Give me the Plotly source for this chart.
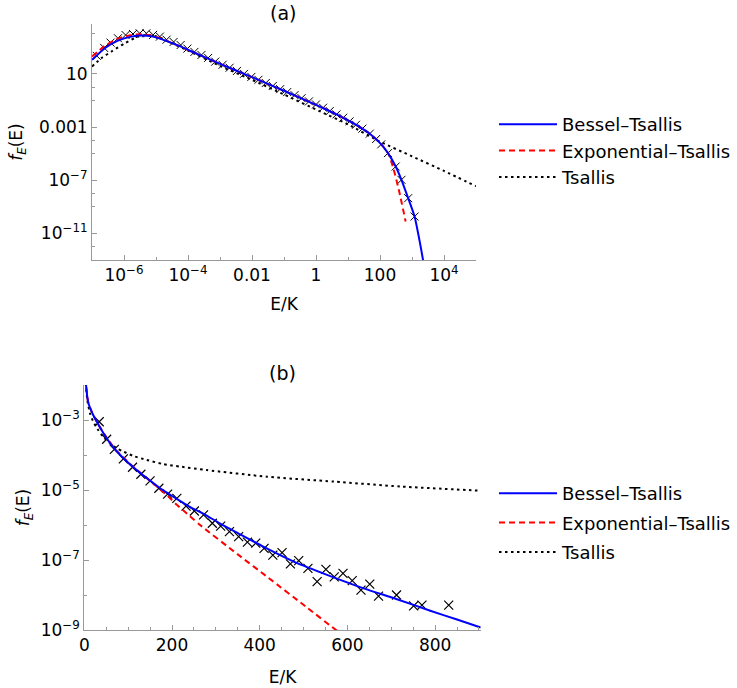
import plotly.graph_objects as go

# ---------------- panel (a): log-log, values stored as log10 ----------------
a_blue_logE = [-7.0, -6.6, -6.19, -5.77, -5.45, -5.1, -4.7, -4.3, -3.9, -3.3, -2.5, -2.0, -1.0, 0.0, 0.3, 0.64, 1.0, 1.37, 1.68, 2.04, 2.25, 2.49, 2.67, 2.88, 3.08, 3.24, 3.36]
a_blue_logf = [2.05, 2.93, 3.5, 3.8, 3.88, 3.8, 3.5, 3.12, 2.7, 2.07, 1.25, 0.75, -0.27, -1.33, -1.66, -2.05, -2.5, -3.0, -3.5, -4.3, -4.96, -5.97, -6.97, -8.35, -9.73, -11.6, -13.2]

a_red_logE = [-7.0, -6.6, -6.19, -5.77, -5.45, -5.1, -4.7, -4.3, -3.9, -3.3, -2.5, -2.0, -1.0, 0.0, 0.3, 0.64, 1.0, 1.37, 1.68, 2.04, 2.25, 2.4, 2.6, 2.8]
a_red_logf = [2.3, 3.1, 3.65, 3.92, 3.97, 3.85, 3.52, 3.12, 2.7, 2.07, 1.25, 0.75, -0.27, -1.33, -1.66, -2.05, -2.5, -3.0, -3.5, -4.3, -4.96, -5.95, -7.85, -10.1]

a_tsallis_logE = [-7.0, -6.71, -6.39, -5.98, -5.56, -5.25, -4.9, -4.5, -4.0, -3.0, -2.0, -1.0, 0.15, 1.0, 2.0, 3.0, 4.0, 5.0]
a_tsallis_logf = [1.55, 2.18, 2.68, 3.3, 3.8, 3.93, 3.75, 3.3, 2.75, 1.6, 0.55, -0.55, -1.85, -2.8, -4.1, -5.2, -6.3, -7.45]

a_data_logE = [-6.85, -6.62, -6.42, -6.19, -5.95, -5.72, -5.51, -5.3, -5.09, -4.88, -4.67, -4.45, -4.23, -4.02,
               -3.8, -3.58, -3.37, -3.15, -2.92, -2.7, -2.47, -2.25, -2.02, -1.8, -1.57, -1.35, -1.12, -0.9,
               -0.67, -0.45, -0.22, 0.0, 0.22, 0.43, 0.64, 0.85, 1.05, 1.25, 1.45, 1.68, 1.88, 2.04, 2.25,
               2.49, 2.67, 2.88, 3.08]
a_data_logf = [2.35, 2.95, 3.35, 3.68, 3.92, 4.0, 4.05, 4.05, 3.93, 3.8, 3.57, 3.4, 3.17, 2.9,
               2.65, 2.42, 2.2, 1.92, 1.68, 1.46, 1.22, 1.0, 0.77, 0.55, 0.31, 0.09, -0.15, -0.37,
               -0.6, -0.83, -1.07, -1.3, -1.55, -1.8, -2.05, -2.3, -2.57, -2.83, -3.12, -3.5, -3.9, -4.3, -4.96,
               -5.97, -6.97, -8.35, -9.73]

a_xtick_vals = [1e-6, 1e-4, 1e-2, 1, 100, 1e4]
a_xtick_text = ["10<sup>\u22126</sup>", "10<sup>\u22124</sup>", "0.01", "1", "100", "10<sup>4</sup>"]
a_xminor_vals = [1e-7, 1e-5, 1e-3, 0.1, 10, 1000, 1e5]
a_ytick_vals = [10, 1e-3, 1e-7, 1e-11]
a_ytick_text = ["10", "0.001", "10<sup>\u22127</sup>", "10<sup>\u221211</sup>"]
a_yminor_vals = [1e4, 1, 0.1, 1e-4, 1e-5, 1e-8, 1e-9, 1e-12]

# ---------------- panel (b): linear E, log f (f stored as log10) ----------------
b_blue_E = [2, 4, 9, 20, 34, 51, 70, 90, 110, 130, 150, 170, 190, 210, 240, 272, 310, 350, 416, 480, 561, 637, 713, 789, 850, 904]
b_blue_logf = [-1.5, -2.0, -2.5, -2.85, -3.17, -3.52, -3.84, -4.1, -4.33, -4.54, -4.73, -4.92, -5.09, -5.25, -5.48, -5.68, -5.96, -6.23, -6.67, -7.06, -7.46, -7.81, -8.12, -8.45, -8.70, -8.93]

b_red_E = [2, 4, 9, 20, 34, 51, 70, 90, 110, 130, 150, 170, 190, 211, 240, 264, 350, 420, 508, 576, 600]
b_red_logf = [-1.5, -2.0, -2.5, -2.85, -3.17, -3.5, -3.83, -4.08, -4.32, -4.53, -4.74, -4.95, -5.17, -5.42, -5.74, -6.0, -6.84, -7.51, -8.36, -9.02, -9.25]

b_tsallis_E = [0.8, 6.9, 13, 20.6, 32, 43.4, 58.7, 74, 89, 112, 142, 180, 218, 279, 416, 569, 721, 904]
b_tsallis_logf = [-1.6, -2.43, -2.81, -3.05, -3.29, -3.48, -3.67, -3.81, -3.9, -4.03, -4.14, -4.26, -4.33, -4.43, -4.62, -4.76, -4.9, -5.02]

b_data_E = [34, 51, 68.5, 89, 110, 129, 150, 170, 190, 211, 232, 251, 272, 292, 311, 331, 352, 372, 391, 410,
            430, 451, 470, 489, 510, 531, 551, 570, 590, 611, 631, 651, 671, 712, 751, 770, 831]
b_data_logf = [-3.05, -3.55, -3.84, -4.11, -4.35, -4.55, -4.74, -4.95, -5.12, -5.24, -5.46, -5.6, -5.71, -5.95, -6.03,
               -6.19, -6.33, -6.49, -6.52, -6.67, -6.86, -6.79, -7.11, -7.02, -7.24, -7.62, -7.27, -7.48, -7.38,
               -7.59, -7.86, -7.69, -8.03, -8.0, -8.31, -8.29, -8.29]

b_xtick_vals = [0, 200, 400, 600, 800]
b_ytick_vals = [1e-3, 1e-5, 1e-7, 1e-9]
b_ytick_text = ["10<sup>\u22123</sup>", "10<sup>\u22125</sup>", "10<sup>\u22127</sup>", "10<sup>\u22129</sup>"]
b_yminor_vals = [1e-2, 1e-4, 1e-6, 1e-8]

series_names = ["Bessel\u2013Tsallis", "Exponential\u2013Tsallis", "Tsallis"]


def p10(v):
    return [10 ** x for x in v]


W, H = 737, 688


def fx(px):
    return px / W


def fy(py):
    return 1 - py / H


FONT = "DejaVu Sans"
AX = "#999999"
BLUE = "#0000ff"
RED = "#ff0000"
TICK_SIZE = 17
LEG_SIZE = 18

fig = go.Figure()

line_styles = [dict(color=BLUE, width=2), dict(color=RED, width=2, dash="6px,4px"),
               dict(color="black", width=2, dash="2.5px,3.5px")]

# panel (a)
a_curves = [(a_blue_logE, a_blue_logf), (a_red_logE, a_red_logf), (a_tsallis_logE, a_tsallis_logf)]
fig.add_trace(go.Scatter(x=p10(a_data_logE), y=p10(a_data_logf), mode="markers",
                         marker=dict(symbol="x-thin-open", size=8, color="black",
                                     line=dict(color="black", width=1)),
                         showlegend=False, xaxis="x", yaxis="y", hoverinfo="skip"))
for i in [2, 1, 0]:
    xs, ys = a_curves[i]
    fig.add_trace(go.Scatter(x=p10(xs), y=p10(ys), mode="lines", name=series_names[i],
                             line=dict(shape="spline", smoothing=0.6, **line_styles[i]),
                             legend="legend", legendgroup="a%d" % i, legendrank=i + 1,
                             xaxis="x", yaxis="y"))

# panel (b)
b_curves = [(b_blue_E, b_blue_logf), (b_red_E, b_red_logf), (b_tsallis_E, b_tsallis_logf)]
fig.add_trace(go.Scatter(x=b_data_E, y=p10(b_data_logf), mode="markers",
                         marker=dict(symbol="x-thin-open", size=9, color="black",
                                     line=dict(color="black", width=1.2)),
                         showlegend=False, xaxis="x2", yaxis="y2", hoverinfo="skip"))
for i in [2, 1, 0]:
    xs, ys = b_curves[i]
    fig.add_trace(go.Scatter(x=xs, y=p10(ys), mode="lines", name=series_names[i],
                             line=dict(shape="spline", smoothing=0.6, **line_styles[i]),
                             legend="legend2", legendgroup="b%d" % i, legendrank=i + 1,
                             xaxis="x2", yaxis="y2"))

common_axis = dict(showline=True, linecolor=AX, linewidth=1, ticks="inside", tickcolor=AX,
                   ticklen=5, tickwidth=1, showgrid=False, zeroline=False, automargin=False,
                   tickfont=dict(family=FONT, size=TICK_SIZE, color="black"))
ytitle = "<i>f</i><sub><i>E</i></sub>(E)"
tfont = dict(family=FONT, size=TICK_SIZE, color="black")

fig.update_layout(
    width=W, height=H,
    margin=dict(l=0, r=0, t=0, b=0),
    paper_bgcolor="white", plot_bgcolor="white",
    font=dict(family=FONT, size=TICK_SIZE, color="black"),
    xaxis=dict(type="log", range=[-7, 5], domain=[fx(92), fx(476)], anchor="y",
               tickmode="array", tickvals=a_xtick_vals, ticktext=a_xtick_text,
               minor=dict(tickmode="array", tickvals=a_xminor_vals, ticks="inside", ticklen=3, tickcolor=AX),
               title=dict(text="E/K", font=tfont, standoff=13), **common_axis),
    yaxis=dict(type="log", range=[-13, 4.75], domain=[fy(260), fy(24)], anchor="x",
               tickmode="array", tickvals=a_ytick_vals, ticktext=a_ytick_text,
               minor=dict(tickmode="array", tickvals=a_yminor_vals, ticks="inside", ticklen=3, tickcolor=AX),
               title=dict(text=ytitle, font=tfont, standoff=11), **common_axis),
    xaxis2=dict(type="linear", range=[0, 904], domain=[fx(84.3), fx(480.7)], anchor="y2",
                tickmode="array", tickvals=b_xtick_vals,
                minor=dict(dtick=50, ticks="inside", ticklen=3, tickcolor=AX),
                title=dict(text="E/K", font=tfont, standoff=16), **common_axis),
    yaxis2=dict(type="log", range=[-9, -2], domain=[fy(630), fy(385)], anchor="x2",
                tickmode="array", tickvals=b_ytick_vals, ticktext=b_ytick_text,
                minor=dict(tickmode="array", tickvals=b_yminor_vals, ticks="inside", ticklen=3, tickcolor=AX),
                title=dict(text=ytitle, font=tfont, standoff=6), **common_axis),
    legend=dict(x=fx(494), y=fy(106), xanchor="left", yanchor="top", bgcolor="rgba(0,0,0,0)",
                font=dict(family=FONT, size=LEG_SIZE), tracegroupgap=0, itemwidth=58,
                traceorder="grouped"),
    legend2=dict(x=fx(494), y=fy(475), xanchor="left", yanchor="top", bgcolor="rgba(0,0,0,0)",
                 font=dict(family=FONT, size=LEG_SIZE), tracegroupgap=3, itemwidth=58,
                 traceorder="grouped"),
    annotations=[
        dict(text="(a)", x=fx(283), y=fy(13), xref="paper", yref="paper", showarrow=False,
             xanchor="center", yanchor="middle", font=dict(family=FONT, size=19)),
        dict(text="(b)", x=fx(282), y=fy(373), xref="paper", yref="paper", showarrow=False,
             xanchor="center", yanchor="middle", font=dict(family=FONT, size=19)),
    ],
)

fig.write_html("out.html", config={"displayModeBar": False},
               post_script="document.body.style.margin='0px';document.body.style.padding='0px';")
